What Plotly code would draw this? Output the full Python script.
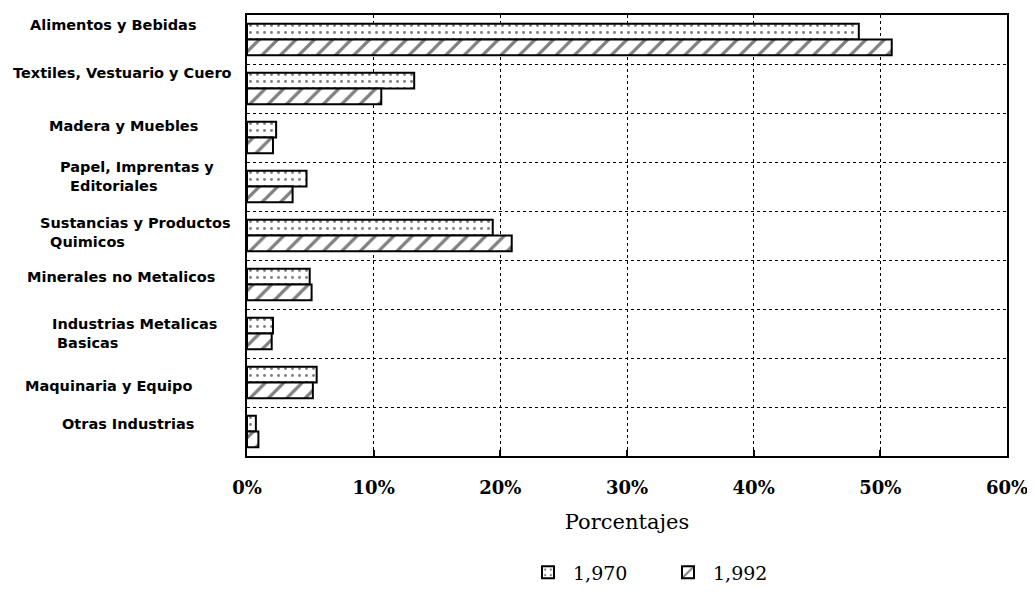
import plotly.graph_objects as go

categories = [
    "Alimentos y Bebidas",
    "Textiles, Vestuario y Cuero",
    "Madera y Muebles",
    "Papel, Imprentas y<br>&nbsp;&nbsp;Editoriales",
    "Sustancias y Productos<br>&nbsp;&nbsp;Quimicos",
    "Minerales no Metalicos",
    "Industrias Metalicas<br>&nbsp;Basicas",
    "Maquinaria y Equipo",
    "Otras Industrias",
]
series_names = ["1,970", "1,992"]
values_1970 = [48.3, 13.2, 2.3, 4.7, 19.4, 4.95, 2.05, 5.5, 0.7]
values_1992 = [50.9, 10.6, 2.05, 3.6, 20.9, 5.1, 1.95, 5.2, 0.9]
x_ticks = [0, 10, 20, 30, 40, 50, 60]
x_tick_labels = ["0%", "10%", "20%", "30%", "40%", "50%", "60%"]

# layout helpers (label placement in page pixels)
label_left_px = [28, 11, 47, 58, 38, 25, 50, 23, 60]
label_yshift = [15, 16, 12, 10, 3, 8, 0, -3, 8]

PAD = 8  # page body margin
W, H = 1035 - PAD, 604 - 2 * PAD
L = 247 - PAD
R = W - (1007 - PAD)
T = 13 - PAD
B = H - (471 - PAD)

idx = list(range(len(categories)))

fig = go.Figure()
fig.add_trace(go.Bar(
    y=idx, x=values_1970, orientation="h", name=series_names[0],
    marker=dict(color="white", line=dict(color="black", width=2),
                pattern=dict(shape=".", fgcolor="black", bgcolor="white",
                             size=7, solidity=0.14)),
))
fig.add_trace(go.Bar(
    y=idx, x=values_1992, orientation="h", name=series_names[1],
    marker=dict(color="white", line=dict(color="black", width=2),
                pattern=dict(shape="/", fgcolor="black", bgcolor="white",
                             size=13, solidity=0.25)),
))

annotations = []
for i, (lab, lx, ys) in enumerate(zip(categories, label_left_px, label_yshift)):
    annotations.append(dict(
        text=lab, xref="paper", x=0, xshift=lx - 247, xanchor="left",
        yref="y", y=i, yshift=ys, yanchor="middle", align="left",
        showarrow=False,
        font=dict(family="DejaVu Sans", size=14.5, color="black", weight="bold"),
    ))

fig.update_layout(
    width=W, height=H,
    margin=dict(l=L, r=R, t=T, b=B),
    paper_bgcolor="white", plot_bgcolor="white",
    barmode="group", bargap=0.36, bargroupgap=0.0,
    showlegend=True,
    legend=dict(orientation="h", x=(523 - 247) / (1007 - 247), xanchor="left",
                y=-(592 - 471) / (471 - 13), yanchor="middle",
                font=dict(family="DejaVu Serif", size=19, color="black"),
                itemwidth=40, entrywidth=85, entrywidthmode="pixels",
                traceorder="normal"),
    annotations=annotations,
    xaxis=dict(
        range=[0, 60], tickvals=x_ticks, ticktext=x_tick_labels,
        showgrid=True, gridcolor="black", griddash="dot", gridwidth=1,
        zeroline=False,
        showline=True, linecolor="black", linewidth=2, mirror=True,
        ticks="inside", ticklen=6, tickcolor="black", tickwidth=2,
        ticklabelstandoff=14, ticklabeloverflow="allow",
        tickfont=dict(family="DejaVu Serif", size=18, color="black", weight="bold"),
        title=dict(text="Porcentajes", standoff=18,
                   font=dict(family="DejaVu Serif", size=21, color="black")),
    ),
    yaxis=dict(
        range=[len(categories) - 0.5, -0.5],
        tickvals=[i + 0.5 for i in idx[:-1]],
        showticklabels=False,
        showgrid=True, gridcolor="black", griddash="dot", gridwidth=1,
        zeroline=False,
        showline=True, linecolor="black", linewidth=2, mirror=True,
        ticks="",
    ),
)

fig.write_html("out.html")
